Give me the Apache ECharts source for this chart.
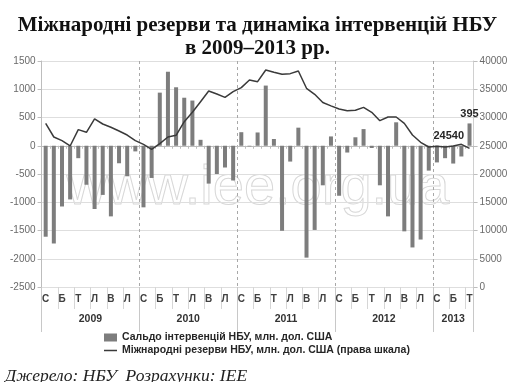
<!DOCTYPE html>
<html><head><meta charset="utf-8">
<script src="https://cdn.jsdelivr.net/npm/echarts@6/dist/echarts.min.js"></script>
<style>html,body{margin:0;padding:0;background:#fff}#c{width:515px;height:382px}</style>
</head><body><div id="c"></div>
<script>
// ---- data ----
const categories = [
 '01.2009','02.2009','03.2009','04.2009','05.2009','06.2009','07.2009','08.2009','09.2009','10.2009','11.2009','12.2009',
 '01.2010','02.2010','03.2010','04.2010','05.2010','06.2010','07.2010','08.2010','09.2010','10.2010','11.2010','12.2010',
 '01.2011','02.2011','03.2011','04.2011','05.2011','06.2011','07.2011','08.2011','09.2011','10.2011','11.2011','12.2011',
 '01.2012','02.2012','03.2012','04.2012','05.2012','06.2012','07.2012','08.2012','09.2012','10.2012','11.2012','12.2012',
 '01.2013','02.2013','03.2013','04.2013','05.2013'
];
const monthLetters = ['С','Л','Б','К','Т','Ч','Л','С','В','Ж','Л','Г'];
const saldo = [
 -1610,-1730,-1075,-950,-220,-690,-1120,-870,-1250,-310,-540,-100,
 -1090,-570,940,1310,1035,850,800,105,-670,-500,-385,-615,
 240,-10,235,1065,120,-1505,-280,320,-1980,-1490,-700,165,
 -885,-120,150,295,-40,-700,-1250,415,-1515,-1800,-1660,-440,
 -295,-220,-315,-190,395
];
const reserves = [
 28970,26550,25900,24960,27850,27380,29740,28850,28270,27610,26900,25900,
 25250,24370,25370,26550,26850,29260,30920,32800,34690,34160,33570,34570,
 35280,36640,36340,38410,38000,37650,37760,38230,35170,34110,32650,32060,
 31500,31210,31270,31800,30920,29440,30090,30090,28970,26900,25610,24780,
 24900,24780,24960,25250,24540
];
const leftAxis = {min:-2500, max:1500, interval:500};
const rightAxis = {min:0, max:40000, interval:5000};
const barName = 'Сальдо інтервенцій НБУ, млн. дол. США';
const lineName = 'Міжнародні резерви НБУ, млн. дол. США (права шкала)';
const titleText = 'Міжнародні резерви та динаміка інтервенцій НБУ\nв 2009–2013 рр.';
const sourceText = 'Джерело: НБУ  Розрахунки: IEE';

// year grouping helpers (labels only)
const yearOf = v => v.slice(3);
const monthOf = v => v.slice(0,2);
const yearFirst = {}, yearLast = {};
categories.forEach((c,i)=>{const y=yearOf(c); if(!(y in yearFirst)) yearFirst[y]=i; yearLast[y]=i;});
const yearLabelIdx = {};
Object.keys(yearFirst).forEach(y=>{
  const m=(yearFirst[y]+yearLast[y])/2;
  yearLabelIdx[Math.floor(m)] = {year:y, half: m!==Math.floor(m)};
});

const chart = echarts.init(document.getElementById('c'));
const sans = 'Liberation Sans';
const lbl = {fontFamily:sans, fontSize:11, fontWeight:'bold', color:'#262626'};
const last = reserves.length-1;
chart.setOption({
  animation:false,
  backgroundColor:'#fff',
  title:[{
    text: titleText, left:'center', top:9,
    textStyle:{fontFamily:'Liberation Serif', fontWeight:'bold', fontSize:21, lineHeight:23, color:'#111'}
  },{
    text: sourceText, left:0, top:362,
    textStyle:{fontFamily:'Liberation Serif', fontStyle:'italic', fontWeight:'normal', fontSize:17.5, color:'#222'}
  }],
  graphic:[{
    type:'text', left:66, top:160, z:0, silent:true,
    style:{text:'www.iee.org.ua', fontFamily:sans, fontSize:56, fill:'rgba(0,0,0,0)', stroke:'#d8d8d8', lineWidth:1}
  }],
  legend:{
    orient:'vertical', left:99, top:327, itemGap:2, itemWidth:13, itemHeight:8,
    textStyle:{fontFamily:sans, fontSize:10.5, fontWeight:'bold', color:'#262626'},
    data:[
      {name:barName, icon:'rect'},
      {name:lineName, icon:'path://M0,0L0.01,0L0.01,0.01Z M0,3.2H13V4.8H0Z M0,8L0.01,8L0.01,7.99Z', itemStyle:{color:'#3a3a3a'}}
    ]
  },
  grid:{left:41.6, right:41.4, top:61, bottom:95, containLabel:false},
  xAxis:[{
    type:'category', data:categories, position:'bottom',
    axisLine:{show:true, onZero:true, onZeroAxisIndex:0, lineStyle:{color:'#bdbdbd', width:1}},
    axisTick:{show:true, interval:0, length:3, lineStyle:{color:'#bdbdbd'}},
    axisLabel:{show:false}, splitLine:{show:false}
  },{
    type:'category', data:categories, position:'bottom',
    axisLine:{show:false, onZero:false},
    axisTick:{show:true, interval:1, length:22, lineStyle:{color:'#d6d6d6'}},
    axisLabel:{show:true, interval:1, margin:7, fontFamily:sans, fontSize:10, fontWeight:'bold', color:'#404040',
      formatter:v=>monthLetters[parseInt(monthOf(v),10)-1]},
    splitLine:{show:false}
  },{
    type:'category', data:categories, position:'bottom',
    axisLine:{show:false, onZero:false},
    axisTick:{show:true, length:45, interval:(i,v)=>monthOf(v)==='01', lineStyle:{color:'#c8c8c8'}},
    axisLabel:{show:true, margin:27, interval:(i)=> i in yearLabelIdx,
      formatter:(v,i)=>{const o=yearLabelIdx[i]; return o ? (o.half?'{h|'+o.year+'}':'{c|'+o.year+'}') : '';},
      rich:{h:{padding:[0,0,0,8], fontFamily:sans, fontSize:10.5, fontWeight:'bold', color:'#333'},
            c:{fontFamily:sans, fontSize:10.5, fontWeight:'bold', color:'#333'}}},
    splitLine:{show:true, interval:(i,v)=>monthOf(v)==='01', lineStyle:{color:'#a8a8a8', type:[3,3], width:1}}
  }],
  yAxis:[{
    type:'value', min:leftAxis.min, max:leftAxis.max, interval:leftAxis.interval, position:'left',
    axisLine:{show:true, lineStyle:{color:'#bdbdbd'}},
    axisTick:{show:true, length:4, lineStyle:{color:'#bdbdbd'}},
    axisLabel:{fontFamily:sans, fontSize:10, color:'#6a6a6a', margin:6, formatter:v=>String(v)},
    splitLine:{show:true, lineStyle:{color:'#dedede', width:1}}
  },{
    type:'value', min:rightAxis.min, max:rightAxis.max, interval:rightAxis.interval, position:'right',
    axisLine:{show:true, lineStyle:{color:'#d0d0d0'}},
    axisTick:{show:true, length:4, lineStyle:{color:'#bdbdbd'}},
    axisLabel:{fontFamily:sans, fontSize:10, color:'#6a6a6a', margin:6, formatter:v=>String(v)},
    splitLine:{show:false}
  }],
  series:[{
    name:barName, type:'bar', xAxisIndex:0, yAxisIndex:0, barWidth:4,
    itemStyle:{color:'#7d7d7d'},
    data: saldo.map((v,i)=> i===saldo.length-1 ? {value:v, label:Object.assign({show:true, position:'top', distance:4}, lbl)} : v),
    z:3
  },{
    name:lineName, type:'line', xAxisIndex:0, yAxisIndex:1, symbol:'none',
    lineStyle:{color:'#3a3a3a', width:1.5}, itemStyle:{color:'#3a3a3a'},
    data: reserves,
    markPoint:{
      symbol:'circle', symbolSize:1, itemStyle:{color:'rgba(0,0,0,0)'}, silent:true,
      label:Object.assign({show:true, position:'left', distance:5, offset:[0,-12], formatter:p=>String(p.value)}, lbl),
      data:[{coord:[last, reserves[last]], value:reserves[last]}]
    },
    z:4
  }]
});
</script>
</body></html>
